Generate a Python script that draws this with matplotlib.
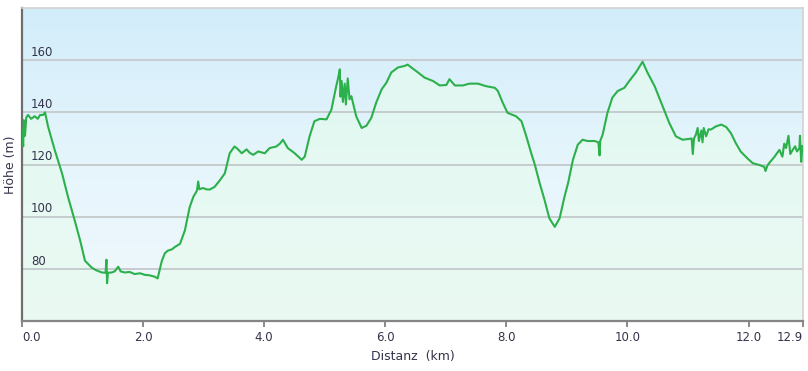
"""Elevation profile (Höhenprofil) of a 12.9 km track."""
import matplotlib

matplotlib.use("Agg")
import matplotlib.pyplot as plt
import numpy as np
from matplotlib.colors import LinearSegmentedColormap

# distance along the track (km) and elevation (m)
dist_km = [
    0.00, 0.02, 0.03, 0.05, 0.07, 0.10, 0.15, 0.21, 0.26, 0.30, 0.35, 0.38,
    0.43, 0.54, 0.66, 0.76, 0.87, 0.96, 1.04, 1.15, 1.22, 1.32, 1.38, 1.395,
    1.405, 1.42, 1.48, 1.53, 1.59, 1.63, 1.70, 1.78, 1.86, 1.95, 2.03, 2.11,
    2.19, 2.24, 2.31, 2.36, 2.41, 2.48, 2.52, 2.61, 2.69, 2.77, 2.83, 2.89,
    2.91, 2.93, 2.99, 3.04, 3.10, 3.18, 3.27, 3.35, 3.43, 3.51, 3.56, 3.63,
    3.71, 3.76, 3.82, 3.90, 4.01, 4.09, 4.20, 4.26, 4.31, 4.39, 4.50, 4.62,
    4.67, 4.75, 4.83, 4.92, 5.03, 5.11, 5.19, 5.22, 5.25, 5.26, 5.28, 5.30,
    5.33, 5.35, 5.38, 5.41, 5.44, 5.52, 5.61, 5.69, 5.77, 5.85, 5.94, 6.02,
    6.10, 6.21, 6.32, 6.37, 6.43, 6.54, 6.65, 6.79, 6.90, 7.01, 7.06, 7.15,
    7.28, 7.39, 7.53, 7.67, 7.81, 7.86, 7.94, 8.02, 8.16, 8.25, 8.33, 8.41,
    8.47, 8.55, 8.63, 8.71, 8.80, 8.88, 8.96, 9.02, 9.10, 9.18, 9.26, 9.34,
    9.46, 9.52, 9.54, 9.55, 9.59, 9.67, 9.75, 9.84, 9.95, 10.03, 10.14, 10.25,
    10.33, 10.45, 10.58, 10.69, 10.80, 10.91, 11.02, 11.06, 11.08, 11.10,
    11.13, 11.16, 11.18, 11.22, 11.24, 11.26, 11.30, 11.34, 11.38, 11.46,
    11.55, 11.63, 11.71, 11.79, 11.87, 11.98, 12.07, 12.18, 12.26, 12.28,
    12.31, 12.34, 12.43, 12.51, 12.56, 12.59, 12.62, 12.66, 12.69, 12.73,
    12.77, 12.80, 12.84, 12.85, 12.87, 12.89,
]
elev_m = [
    133, 127, 137, 131, 138, 139, 137.5, 138.5, 137.5, 139, 139, 140,
    134.6, 125.6, 116.7, 107.6, 98.6, 90.9, 83.1, 80.5, 79.5, 78.6, 78.5, 83.5,
    74.5, 78.5, 78.6, 79, 80.8, 79, 78.6, 78.8, 78, 78.3, 77.7, 77.5,
    77, 76.3, 83.1, 86, 87, 87.5, 88.3, 89.6, 94.7, 103.7, 107.6, 110,
    113.5, 110.5, 111, 110.5, 110.4, 111.4, 114, 116.6, 124.3, 126.9, 126, 124.3,
    125.8, 124.5, 123.7, 125, 124.3, 126.3, 126.9, 128, 129.5, 126.3, 124.4, 121.8,
    123, 130.8, 136.6, 137.5, 137.3, 141, 150, 153, 156.5, 146, 152, 144,
    151, 143, 153, 145, 146.2, 138.5, 134, 134.9, 137.9, 143.7, 148.8, 151.4,
    155.3, 157.2, 157.8, 158.3, 157.2, 155.3, 153.3, 152, 150.3, 150.5, 152.7, 150.3,
    150.3, 151, 151, 150, 149.4, 148.2, 143.7, 139.8, 138.5, 136.6, 130.8, 124.4,
    120, 112.9, 106.5, 99.4, 96.1, 99.4, 107.6, 112.9, 121.8, 127.6, 129.5, 129,
    129, 128.5, 123.5, 129, 131.4, 139.8, 145.6, 148.2, 149.4, 152, 155.3, 159.4,
    155.3, 150, 142.4, 136, 130.8, 129.5, 129.8, 130, 124, 130,
    131.4, 134, 129, 133, 128.5, 134, 130.8, 133.5, 133.4, 134.6,
    135.3, 134.4, 132, 128.2, 125, 122.4, 120.5, 119.8, 119.1, 117.5,
    119.5, 120.5, 123, 125.6, 123, 128, 126.3, 131, 124, 125.6,
    127, 125, 126.3, 131, 121, 127,
]

x_ticks = [0.0, 2.0, 4.0, 6.0, 8.0, 10.0, 12.0, 12.9]
y_ticks = [80, 100, 120, 140, 160]

LINE = "#2bb04c"
TEXT = "#33334a"

fig = plt.figure(figsize=(8.08, 3.71), dpi=100)
ax = fig.add_axes([22 / 808, 50 / 371, 781 / 808, 313 / 371])
ax.set_xlim(0, 12.9)
ax.set_ylim(60, 180)

# sky-blue to almost-white background gradient
bg = LinearSegmentedColormap.from_list("bg", ["#f1f9fd", "#e6f5fc", "#d2edfa"])
ax.imshow(np.linspace(0, 1, 256).reshape(-1, 1), cmap=bg, origin="lower",
          extent=(0, 1, 0, 1), transform=ax.transAxes, aspect="auto", zorder=0)

# mint tint under the profile, kept below grid and labels
ax.fill_between(dist_km, elev_m, 60, color="#e6fbee", alpha=0.65, lw=0,
                zorder=0.5)

for v in y_ticks:
    ax.axhline(v, color="#c6ccce", lw=1.4, zorder=1)
    ax.text(9 / 781, v + 1.6, f"{v}", transform=ax.get_yaxis_transform(),
            ha="left", va="baseline", fontsize=8.5, color=TEXT, zorder=2)

ax.plot(dist_km, elev_m, color=LINE, lw=1.5, zorder=3)

ax.set_yticks([])
ax.set_xticks(x_ticks)
ax.set_xticklabels([f"{t:.1f}" for t in x_ticks], fontsize=8.5, color=TEXT)
labels = ax.get_xticklabels()
labels[0].set_ha("left")
labels[-1].set_ha("right")
ax.tick_params(axis="x", direction="out", length=4, width=1.2,
               color="#777777", pad=3)

ax.spines["left"].set_color("#6e6e6e")
ax.spines["left"].set_linewidth(1.6)
ax.spines["bottom"].set_color("#858585")
ax.spines["bottom"].set_linewidth(1.6)
for side in ("top", "right"):
    ax.spines[side].set_color("#d2d2d2")
    ax.spines[side].set_linewidth(1.2)

ax.set_xlabel("Distanz  (km)", fontsize=9, color=TEXT)
ax.xaxis.set_label_coords(0.5, -0.093)
ax.set_ylabel("Höhe (m)", fontsize=9, color=TEXT)
ax.yaxis.set_label_coords(-0.006, 0.5)

fig.savefig("out.png", dpi=100)
